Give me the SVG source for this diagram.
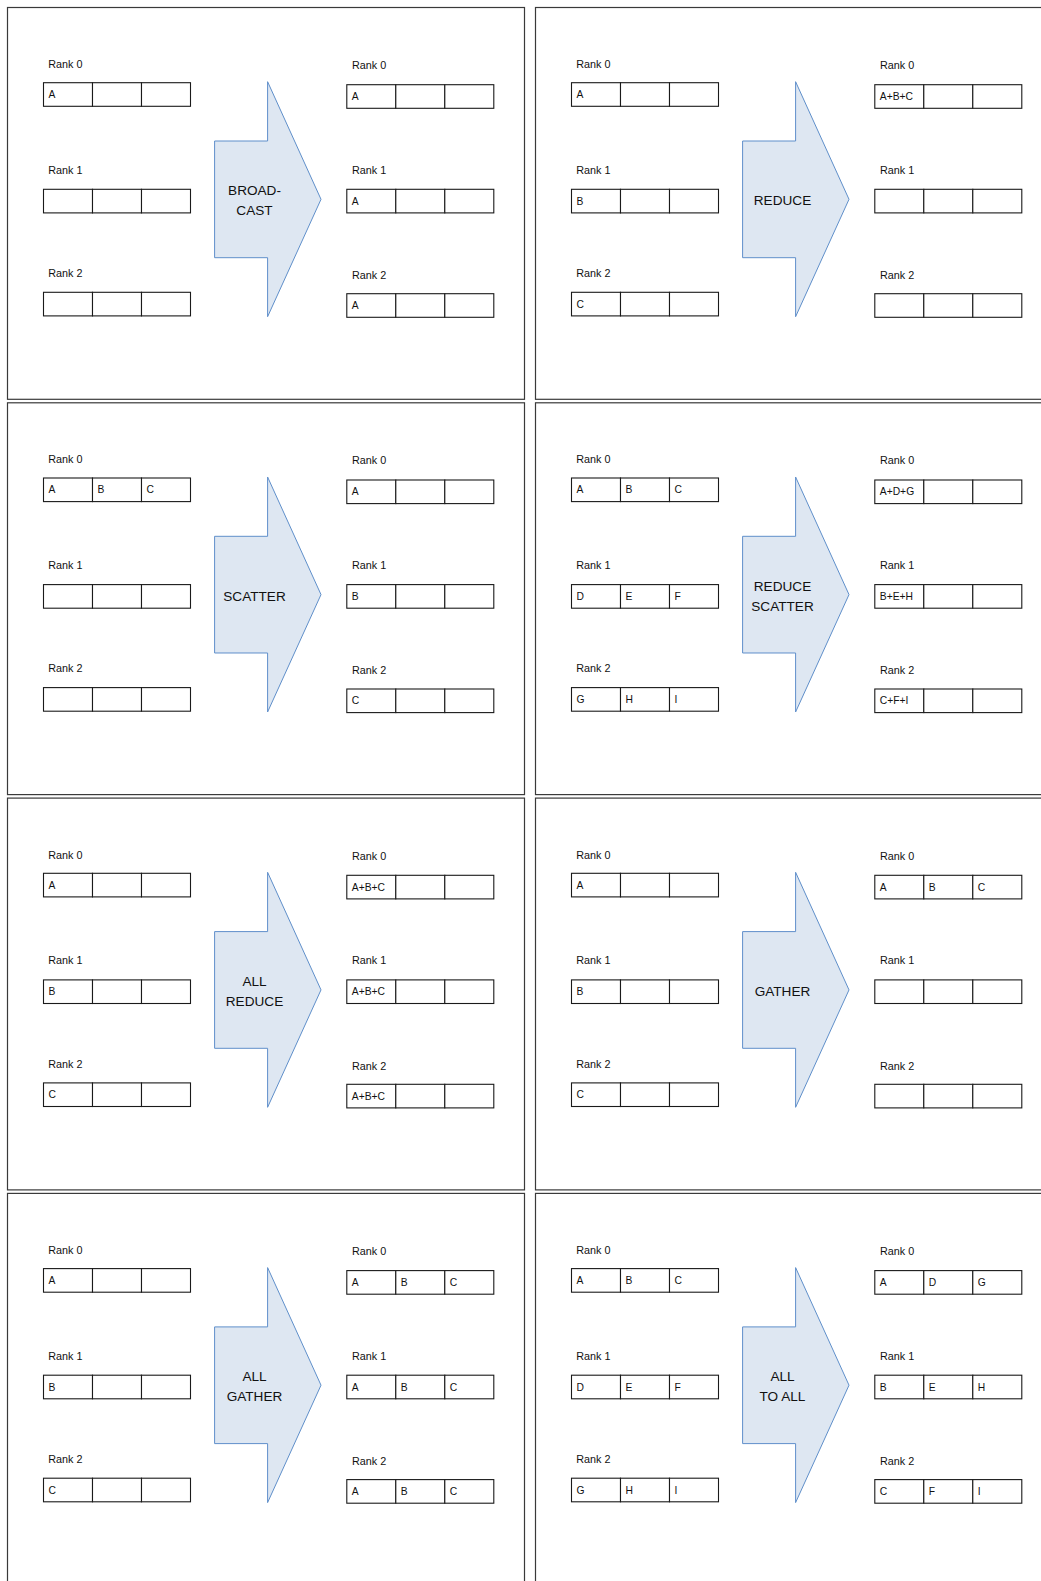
<svg xmlns="http://www.w3.org/2000/svg" xmlns:xlink="http://www.w3.org/1999/xlink" width="1041" height="1581" viewBox="0 0 1041 1581">
  <style>
    .frame { fill: #ffffff; stroke: #3a3a3a; stroke-width: 1.2; }
    .cell rect { fill: #ffffff; stroke: #1a1a1a; stroke-width: 1.1; }
    .arrow { fill: #dee7f2; stroke: #5f8fca; stroke-width: 1; }
    text { font-family: "Liberation Sans", Arial, sans-serif; fill: #111111; }
    .rank { font-size: 10.8px; }
    .val { font-size: 10.3px; }
    .op { font-size: 13.6px; text-anchor: middle; }
  </style>
  <defs>
    <!-- three-slot buffer -->
    <g id="row3" class="cell">
      <rect x="0" y="0" width="49" height="23.6"/>
      <rect x="49" y="0" width="49" height="23.6"/>
      <rect x="98" y="0" width="49" height="23.6"/>
    </g>
    <!-- block arrow between input and output buffers -->
    <polygon id="arrow" class="arrow" points="260.1,74.2 313.5,191.8 260.1,309.2 260.1,250.2 207.1,250.2 207.1,133.5 260.1,133.5"/>
    <!-- shared skeleton: frame, buffers, arrow -->
    <g id="base">
      <rect class="frame" x="0" y="0" width="517" height="391.8"/>
      <use xlink:href="#row3" x="36" y="75.2"/>
      <use xlink:href="#row3" x="36" y="181.8"/>
      <use xlink:href="#row3" x="36" y="284.8"/>
      <use xlink:href="#row3" x="339.3" y="77.2"/>
      <use xlink:href="#row3" x="339.3" y="181.8"/>
      <use xlink:href="#row3" x="339.3" y="286.2"/>
      <use xlink:href="#arrow"/>
    </g>
  </defs>

  <!-- Broadcast -->
  <g id="broadcast" transform="translate(7.5,7.5)">
    <use xlink:href="#base"/>
    <text class="rank" x="40.8" y="60.5">Rank 0</text>
    <text class="rank" x="40.8" y="166.2">Rank 1</text>
    <text class="rank" x="40.8" y="269.5">Rank 2</text>
    <text class="rank" x="344.5" y="61.5">Rank 0</text>
    <text class="rank" x="344.5" y="166.2">Rank 1</text>
    <text class="rank" x="344.5" y="271.5">Rank 2</text>
    <text class="val" x="41" y="90.7">A</text>
    <text class="val" x="344.3" y="92.7">A</text>
    <text class="val" x="344.3" y="197.3">A</text>
    <text class="val" x="344.3" y="301.7">A</text>
    <text class="op" x="247" y="187.8">BROAD-</text>
    <text class="op" x="247" y="207.8">CAST</text>
  </g>

  <!-- Reduce -->
  <g id="reduce" transform="translate(535.5,7.5)">
    <use xlink:href="#base"/>
    <text class="rank" x="40.8" y="60.5">Rank 0</text>
    <text class="rank" x="40.8" y="166.2">Rank 1</text>
    <text class="rank" x="40.8" y="269.5">Rank 2</text>
    <text class="rank" x="344.5" y="61.5">Rank 0</text>
    <text class="rank" x="344.5" y="166.2">Rank 1</text>
    <text class="rank" x="344.5" y="271.5">Rank 2</text>
    <text class="val" x="41" y="90.7">A</text>
    <text class="val" x="41" y="197.3">B</text>
    <text class="val" x="41" y="300.3">C</text>
    <text class="val" x="344.3" y="92.7">A+B+C</text>
    <text class="op" x="247" y="197.8">REDUCE</text>
  </g>

  <!-- Scatter -->
  <g id="scatter" transform="translate(7.5,402.8)">
    <use xlink:href="#base"/>
    <text class="rank" x="40.8" y="60.5">Rank 0</text>
    <text class="rank" x="40.8" y="166.2">Rank 1</text>
    <text class="rank" x="40.8" y="269.5">Rank 2</text>
    <text class="rank" x="344.5" y="61.5">Rank 0</text>
    <text class="rank" x="344.5" y="166.2">Rank 1</text>
    <text class="rank" x="344.5" y="271.5">Rank 2</text>
    <text class="val" x="41" y="90.7">A</text>
    <text class="val" x="90" y="90.7">B</text>
    <text class="val" x="139" y="90.7">C</text>
    <text class="val" x="344.3" y="92.7">A</text>
    <text class="val" x="344.3" y="197.3">B</text>
    <text class="val" x="344.3" y="301.7">C</text>
    <text class="op" x="247" y="197.8">SCATTER</text>
  </g>

  <!-- Reduce-scatter -->
  <g id="reduce-scatter" transform="translate(535.5,402.8)">
    <use xlink:href="#base"/>
    <text class="rank" x="40.8" y="60.5">Rank 0</text>
    <text class="rank" x="40.8" y="166.2">Rank 1</text>
    <text class="rank" x="40.8" y="269.5">Rank 2</text>
    <text class="rank" x="344.5" y="61.5">Rank 0</text>
    <text class="rank" x="344.5" y="166.2">Rank 1</text>
    <text class="rank" x="344.5" y="271.5">Rank 2</text>
    <text class="val" x="41" y="90.7">A</text>
    <text class="val" x="90" y="90.7">B</text>
    <text class="val" x="139" y="90.7">C</text>
    <text class="val" x="41" y="197.3">D</text>
    <text class="val" x="90" y="197.3">E</text>
    <text class="val" x="139" y="197.3">F</text>
    <text class="val" x="41" y="300.3">G</text>
    <text class="val" x="90" y="300.3">H</text>
    <text class="val" x="139" y="300.3">I</text>
    <text class="val" x="344.3" y="92.7">A+D+G</text>
    <text class="val" x="344.3" y="197.3">B+E+H</text>
    <text class="val" x="344.3" y="301.7">C+F+I</text>
    <text class="op" x="247" y="187.8">REDUCE</text>
    <text class="op" x="247" y="207.8">SCATTER</text>
  </g>

  <!-- All-reduce -->
  <g id="all-reduce" transform="translate(7.5,798.1)">
    <use xlink:href="#base"/>
    <text class="rank" x="40.8" y="60.5">Rank 0</text>
    <text class="rank" x="40.8" y="166.2">Rank 1</text>
    <text class="rank" x="40.8" y="269.5">Rank 2</text>
    <text class="rank" x="344.5" y="61.5">Rank 0</text>
    <text class="rank" x="344.5" y="166.2">Rank 1</text>
    <text class="rank" x="344.5" y="271.5">Rank 2</text>
    <text class="val" x="41" y="90.7">A</text>
    <text class="val" x="41" y="197.3">B</text>
    <text class="val" x="41" y="300.3">C</text>
    <text class="val" x="344.3" y="92.7">A+B+C</text>
    <text class="val" x="344.3" y="197.3">A+B+C</text>
    <text class="val" x="344.3" y="301.7">A+B+C</text>
    <text class="op" x="247" y="187.8">ALL</text>
    <text class="op" x="247" y="207.8">REDUCE</text>
  </g>

  <!-- Gather -->
  <g id="gather" transform="translate(535.5,798.1)">
    <use xlink:href="#base"/>
    <text class="rank" x="40.8" y="60.5">Rank 0</text>
    <text class="rank" x="40.8" y="166.2">Rank 1</text>
    <text class="rank" x="40.8" y="269.5">Rank 2</text>
    <text class="rank" x="344.5" y="61.5">Rank 0</text>
    <text class="rank" x="344.5" y="166.2">Rank 1</text>
    <text class="rank" x="344.5" y="271.5">Rank 2</text>
    <text class="val" x="41" y="90.7">A</text>
    <text class="val" x="41" y="197.3">B</text>
    <text class="val" x="41" y="300.3">C</text>
    <text class="val" x="344.3" y="92.7">A</text>
    <text class="val" x="393.3" y="92.7">B</text>
    <text class="val" x="442.3" y="92.7">C</text>
    <text class="op" x="247" y="197.8">GATHER</text>
  </g>

  <!-- All-gather -->
  <g id="all-gather" transform="translate(7.5,1193.4)">
    <use xlink:href="#base"/>
    <text class="rank" x="40.8" y="60.5">Rank 0</text>
    <text class="rank" x="40.8" y="166.2">Rank 1</text>
    <text class="rank" x="40.8" y="269.5">Rank 2</text>
    <text class="rank" x="344.5" y="61.5">Rank 0</text>
    <text class="rank" x="344.5" y="166.2">Rank 1</text>
    <text class="rank" x="344.5" y="271.5">Rank 2</text>
    <text class="val" x="41" y="90.7">A</text>
    <text class="val" x="41" y="197.3">B</text>
    <text class="val" x="41" y="300.3">C</text>
    <text class="val" x="344.3" y="92.7">A</text>
    <text class="val" x="393.3" y="92.7">B</text>
    <text class="val" x="442.3" y="92.7">C</text>
    <text class="val" x="344.3" y="197.3">A</text>
    <text class="val" x="393.3" y="197.3">B</text>
    <text class="val" x="442.3" y="197.3">C</text>
    <text class="val" x="344.3" y="301.7">A</text>
    <text class="val" x="393.3" y="301.7">B</text>
    <text class="val" x="442.3" y="301.7">C</text>
    <text class="op" x="247" y="187.8">ALL</text>
    <text class="op" x="247" y="207.8">GATHER</text>
  </g>

  <!-- All-to-all -->
  <g id="all-to-all" transform="translate(535.5,1193.4)">
    <use xlink:href="#base"/>
    <text class="rank" x="40.8" y="60.5">Rank 0</text>
    <text class="rank" x="40.8" y="166.2">Rank 1</text>
    <text class="rank" x="40.8" y="269.5">Rank 2</text>
    <text class="rank" x="344.5" y="61.5">Rank 0</text>
    <text class="rank" x="344.5" y="166.2">Rank 1</text>
    <text class="rank" x="344.5" y="271.5">Rank 2</text>
    <text class="val" x="41" y="90.7">A</text>
    <text class="val" x="90" y="90.7">B</text>
    <text class="val" x="139" y="90.7">C</text>
    <text class="val" x="41" y="197.3">D</text>
    <text class="val" x="90" y="197.3">E</text>
    <text class="val" x="139" y="197.3">F</text>
    <text class="val" x="41" y="300.3">G</text>
    <text class="val" x="90" y="300.3">H</text>
    <text class="val" x="139" y="300.3">I</text>
    <text class="val" x="344.3" y="92.7">A</text>
    <text class="val" x="393.3" y="92.7">D</text>
    <text class="val" x="442.3" y="92.7">G</text>
    <text class="val" x="344.3" y="197.3">B</text>
    <text class="val" x="393.3" y="197.3">E</text>
    <text class="val" x="442.3" y="197.3">H</text>
    <text class="val" x="344.3" y="301.7">C</text>
    <text class="val" x="393.3" y="301.7">F</text>
    <text class="val" x="442.3" y="301.7">I</text>
    <text class="op" x="247" y="187.8">ALL</text>
    <text class="op" x="247" y="207.8">TO ALL</text>
  </g>
</svg>
